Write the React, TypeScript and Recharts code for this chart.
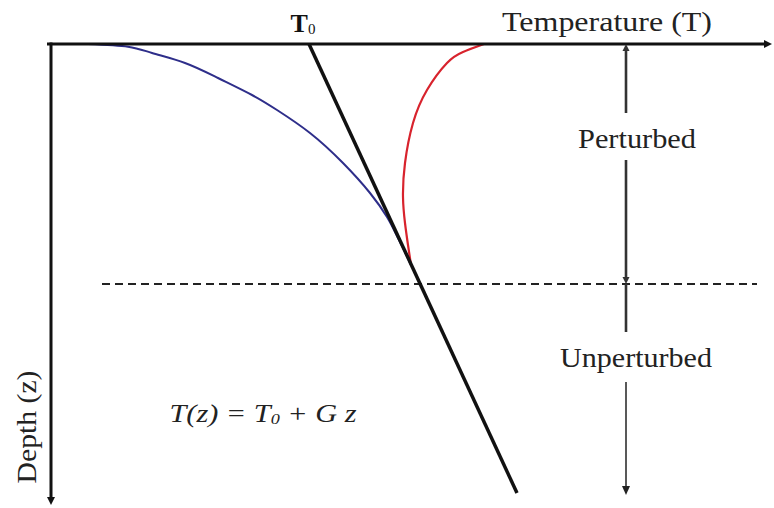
import React from 'react';
import { LineChart, Line, XAxis, YAxis, ReferenceLine, ReferenceDot } from 'recharts';

// temperature T to the right, depth z downwards (arbitrary units)
const geotherm = [
  { z: 0, T: 25.8 },
  { z: 44.9, T: 46.6 },
];

// blue: profile colder than the geotherm near the surface
const coldProfile = [
  { z: 0, T: 3.7 },
  { z: 0.27, T: 7.7 },
  { z: 0.9, T: 10.1 },
  { z: 1.9, T: 13.4 },
  { z: 3.4, T: 16.7 },
  { z: 5.1, T: 20.1 },
  { z: 6.6, T: 22.6 },
  { z: 8.9, T: 25.9 },
  { z: 11.9, T: 29.2 },
  { z: 14.9, T: 31.9 },
  { z: 17.3, T: 33.6 },
  { z: 19.0, T: 34.5 },
  { z: 20.6, T: 35.3 },
  { z: 22.1, T: 36.0 },
];

// red: profile warmer than the geotherm near the surface
const warmProfile = [
  { z: 0, T: 43.3 },
  { z: 0.8, T: 41.2 },
  { z: 1.9, T: 39.6 },
  { z: 4.6, T: 37.6 },
  { z: 7.9, T: 36.2 },
  { z: 11.9, T: 35.4 },
  { z: 15.3, T: 35.2 },
  { z: 17.9, T: 35.4 },
  { z: 20.1, T: 35.7 },
  { z: 22.1, T: 36.0 },
];

const surfaceTemp = 25.8;
const perturbedDepth = 24.0;
const dashedRange = [5.1, 70.6];
const zoneT = 57.5;
const perturbedArrows = [
  [6.9, 0],
  [11.6, 24.0],
];
const unperturbedArrows = [
  [24.0, 28.8],
  [33.8, 45.1],
];

const serif = '"Liberation Serif", "Times New Roman", serif';

const arrowShape =
  (color: string, width: number, head: 'end' | 'none', size = 8, half = 4) =>
  (props: any) => {
    const { x1, y1, x2, y2 } = props;
    const dx = x2 - x1;
    const dy = y2 - y1;
    const len = Math.hypot(dx, dy) || 1;
    const ux = dx / len;
    const uy = dy / len;
    const bx = x2 - ux * size;
    const by = y2 - uy * size;
    const ex = head === 'end' ? bx : x2;
    const ey = head === 'end' ? by : y2;
    return (
      <g>
        <line x1={x1} y1={y1} x2={ex} y2={ey} stroke={color} strokeWidth={width} />
        {head === 'end' && (
          <polygon
            points={`${x2},${y2} ${bx - uy * half},${by + ux * half} ${bx + uy * half},${by - ux * half}`}
            fill={color}
          />
        )}
      </g>
    );
  };

const textShape = (render: (x: number, y: number) => React.ReactNode) => (props: any) =>
  <g>{render(props.cx, props.cy)}</g>;

export default function App() {
  return (
    <div style={{ position: 'absolute', left: 0, top: 0, width: 774, height: 508, background: '#fff' }}>
      <LineChart
        width={774}
        height={508}
        layout="vertical"
        margin={{ top: 44, right: 2, bottom: 4, left: 46 }}
      >
        <XAxis type="number" domain={[-0.5, 72.1]} hide allowDataOverflow />
        <YAxis type="number" dataKey="z" domain={[0, 46]} hide allowDataOverflow />

        <ReferenceLine
          segment={[{ x: dashedRange[0], y: perturbedDepth }, { x: dashedRange[1], y: perturbedDepth }]}
          stroke="#222"
          strokeWidth={2}
          strokeDasharray="8 5"
          ifOverflow="visible"
        />

        <Line
          data={coldProfile}
          dataKey="T"
          type="natural"
          stroke="#2e2e8a"
          strokeWidth={2}
          dot={false}
          activeDot={false}
          isAnimationActive={false}
        />
        <Line
          data={warmProfile}
          dataKey="T"
          type="natural"
          stroke="#d8232d"
          strokeWidth={2.2}
          dot={false}
          activeDot={false}
          isAnimationActive={false}
        />
        <Line
          data={geotherm}
          dataKey="T"
          type="linear"
          stroke="#111"
          strokeWidth={3.5}
          dot={false}
          activeDot={false}
          isAnimationActive={false}
        />

        {/* axes */}
        <ReferenceLine
          segment={[{ x: -0.4, y: 0 }, { x: 72.1, y: 0 }]}
          ifOverflow="visible"
          shape={arrowShape('#111', 3, 'end', 8, 4)}
        />
        <ReferenceLine
          segment={[{ x: 0, y: -0.15 }, { x: 0, y: 46.1 }]}
          ifOverflow="visible"
          shape={arrowShape('#111', 3, 'end', 8, 4)}
        />

        {/* zone arrows */}
        {perturbedArrows.map(([a, b], i) => (
          <ReferenceLine
            key={`p${i}`}
            segment={[{ x: zoneT, y: a }, { x: zoneT, y: b }]}
            ifOverflow="visible"
            shape={arrowShape('#333', 2.6, 'end', 7, 3.5)}
          />
        ))}
        {unperturbedArrows.map(([a, b], i) => (
          <ReferenceLine
            key={`u${i}`}
            segment={[{ x: zoneT, y: a }, { x: zoneT, y: b }]}
            ifOverflow="visible"
            shape={arrowShape(i === 0 ? '#333' : '#222', i === 0 ? 2.6 : 1.5, i === 0 ? 'none' : 'end', 9, 4)}
          />
        ))}

        {/* text */}
        <ReferenceDot
          x={surfaceTemp - 0.6}
          y={-1.2}
          r={0}
          ifOverflow="visible"
          shape={textShape((x, y) => (
            <text x={x} y={y} textAnchor="middle" fontFamily={serif} fill="#111">
              <tspan fontSize={26} fontWeight="bold">T</tspan>
              <tspan fontSize={15} dy={2}>0</tspan>
            </text>
          ))}
        />
        <ReferenceDot
          x={55.6}
          y={-1.3}
          r={0}
          ifOverflow="visible"
          shape={textShape((x, y) => (
            <text x={x} y={y} textAnchor="middle" fontFamily={serif} fontSize={27} fill="#222"
              textLength={210} lengthAdjust="spacingAndGlyphs">
              Temperature (T)
            </text>
          ))}
        />
        <ReferenceDot
          x={58.6}
          y={10.4}
          r={0}
          ifOverflow="visible"
          shape={textShape((x, y) => (
            <text x={x} y={y} textAnchor="middle" fontFamily={serif} fontSize={27} fill="#222"
              textLength={118} lengthAdjust="spacingAndGlyphs">
              Perturbed
            </text>
          ))}
        />
        <ReferenceDot
          x={58.5}
          y={32.3}
          r={0}
          ifOverflow="visible"
          shape={textShape((x, y) => (
            <text x={x} y={y} textAnchor="middle" fontFamily={serif} fontSize={27} fill="#222"
              textLength={152} lengthAdjust="spacingAndGlyphs">
              Unperturbed
            </text>
          ))}
        />
        <ReferenceDot
          x={21.2}
          y={37.8}
          r={0}
          ifOverflow="visible"
          shape={textShape((x, y) => (
            <text x={x} y={y} textAnchor="middle" fontFamily={serif} fontSize={25} fontStyle="italic" fill="#222"
              textLength={187} lengthAdjust="spacingAndGlyphs">
              <tspan>T(z) = T</tspan>
              <tspan fontSize={15} dy={2}>0</tspan>
              <tspan dy={-2}> + G z</tspan>
            </text>
          ))}
        />
        <ReferenceDot
          x={-1.5}
          y={38.3}
          r={0}
          ifOverflow="visible"
          shape={textShape((x, y) => (
            <text x={x} y={y} transform={`rotate(-90 ${x} ${y})`} textAnchor="middle" fontFamily={serif}
              fontSize={27} fill="#222" textLength={113} lengthAdjust="spacingAndGlyphs">
              Depth (z)
            </text>
          ))}
        />
      </LineChart>
    </div>
  );
}
